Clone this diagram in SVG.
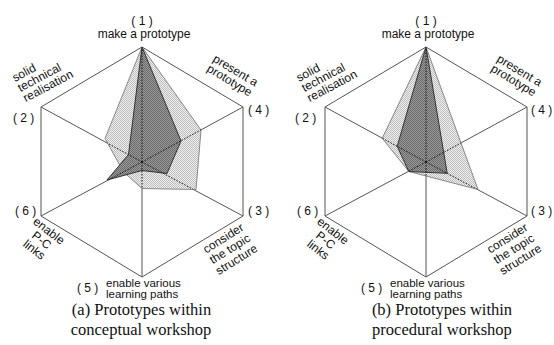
<svg xmlns="http://www.w3.org/2000/svg" width="554" height="345" viewBox="0 0 554 345">
<style>
.frame{fill:none;stroke:#555;stroke-width:1}
.spoke{fill:none;stroke:#555;stroke-width:1}
.dash{fill:none;stroke:#111;stroke-width:1;stroke-dasharray:1.5 1.5}
.light{fill:url(#lt);stroke:#888;stroke-width:1;stroke-linejoin:round}
.dark{fill:url(#dk);stroke:#333;stroke-width:1;stroke-linejoin:round}
.lbl{font-family:"Liberation Sans",Arial,sans-serif;font-size:12px;fill:#111}
.sm{font-size:11.5px}
.cap{font-family:"Liberation Serif","Times New Roman",serif;font-size:16.5px;fill:#111;text-anchor:middle}
.mid{text-anchor:middle}
</style>
<defs>
<pattern id="lt" width="2" height="2" patternUnits="userSpaceOnUse">
<rect width="2" height="2" fill="#f0f0f0"/>
<rect width="1" height="1" fill="#bcbcbc"/>
<rect x="1" y="1" width="1" height="1" fill="#bcbcbc"/>
</pattern>
<pattern id="dk" width="2" height="2" patternUnits="userSpaceOnUse">
<rect width="2" height="2" fill="#9a9a9a"/>
<rect width="1" height="1" fill="#6a6a6a"/>
<rect x="1" y="1" width="1" height="1" fill="#6a6a6a"/>
</pattern>
<path id="hex" d="M142,47 L41,107 L41,216 L142,277 L243,216 L243,107 Z"/>
<path id="spokes" d="M142,162 L142,47 M142,162 L41,107 M142,162 L243,107 M142,162 L41,216 M142,162 L243,216 M142,162 L142,277"/>
<clipPath id="clipA">
<polygon points="142,47 201,130 196,189.5 142,188.5 123.5,172 105,138.5"/>
<polygon points="142,47 181,141 167,173.5 142,170.5 107,180 128.5,154.5"/>
</clipPath>
<clipPath id="clipB">
<polygon points="142,47 194,189.5 124.8,171.5 98.2,138.3"/>
</clipPath>
</defs>

<g id="diagram-a">
<g id="axes-a">
<use href="#hex" class="frame"/>
<use href="#spokes" class="spoke"/>
</g>
<g id="profile-a">
<polygon id="a-light" class="light" points="142,47 201,130 196,189.5 142,188.5 123.5,172 105,138.5"/>
<polygon id="a-dark" class="dark" points="142,47 181,141 167,173.5 142,170.5 107,180 128.5,154.5"/>
<use href="#spokes" class="dash" clip-path="url(#clipA)"/>
</g>
<g id="a-n1"><text class="lbl mid" x="142" y="24.5">( 1 )</text><text class="lbl mid" x="144" y="37.5">make a prototype</text></g>
<g id="a-n2"><text class="lbl" x="13" y="122">( 2 )</text>
<g transform="translate(15,82) rotate(-28)"><text class="lbl" x="0" y="0">solid</text><text class="lbl" x="0" y="11.5">technical</text><text class="lbl" x="0" y="23">realisation</text></g></g>
<g id="a-n4"><text class="lbl" x="248" y="114">( 4 )</text>
<g transform="translate(212,61) rotate(31)"><text class="lbl" x="0" y="0">present a</text><text class="lbl" x="0" y="11.5">prototype</text></g></g>
<g id="a-n6"><text class="lbl" x="15" y="215">( 6 )</text>
<g transform="translate(46.5,234) rotate(38)"><text class="lbl mid" x="0" y="0">enable</text><text class="lbl mid" x="0" y="12">P-C</text><text class="lbl mid" x="0" y="24">links</text></g></g>
<g id="a-n3"><text class="lbl" x="248" y="215">( 3 )</text>
<g transform="translate(225.4,241.7) rotate(-32)"><text class="lbl mid" x="0" y="0">consider</text><text class="lbl mid" x="0" y="12.5">the topic</text><text class="lbl mid" x="0" y="25">structure</text></g></g>
<g id="a-n5"><text class="lbl" x="77" y="291.5">( 5 )</text><text class="lbl sm" x="106" y="286.5">enable various</text><text class="lbl sm" x="106" y="297.5">learning paths</text></g>
</g>

<g id="diagram-b" transform="translate(284,0)">
<g id="axes-b">
<use href="#hex" class="frame"/>
<use href="#spokes" class="spoke"/>
</g>
<g id="profile-b">
<polygon id="b-light" class="light" points="142,47 194,189.5 124.8,171.5 98.2,138.3"/>
<polygon id="b-dark" class="dark" points="142,47 163.2,173.3 124.8,171.5 113.2,146.3"/>
<use href="#spokes" class="dash" clip-path="url(#clipB)"/>
</g>
<g id="b-n1"><text class="lbl mid" x="142" y="24.5">( 1 )</text><text class="lbl mid" x="144" y="37.5">make a prototype</text></g>
<g id="b-n2"><text class="lbl" x="11" y="122">( 2 )</text>
<g transform="translate(15,82) rotate(-28)"><text class="lbl" x="0" y="0">solid</text><text class="lbl" x="0" y="11.5">technical</text><text class="lbl" x="0" y="23">realisation</text></g></g>
<g id="b-n4"><text class="lbl" x="247" y="114">( 4 )</text>
<g transform="translate(212,61) rotate(31)"><text class="lbl" x="0" y="0">present a</text><text class="lbl" x="0" y="11.5">prototype</text></g></g>
<g id="b-n6"><text class="lbl" x="13" y="215">( 6 )</text>
<g transform="translate(46.5,234) rotate(38)"><text class="lbl mid" x="0" y="0">enable</text><text class="lbl mid" x="0" y="12">P-C</text><text class="lbl mid" x="0" y="24">links</text></g></g>
<g id="b-n3"><text class="lbl" x="247" y="215">( 3 )</text>
<g transform="translate(225.4,241.7) rotate(-32)"><text class="lbl mid" x="0" y="0">consider</text><text class="lbl mid" x="0" y="12.5">the topic</text><text class="lbl mid" x="0" y="25">structure</text></g></g>
<g id="b-n5"><text class="lbl" x="77" y="291.5">( 5 )</text><text class="lbl sm" x="106" y="286.5">enable various</text><text class="lbl sm" x="106" y="297.5">learning paths</text></g>
</g>

<g id="captions">
<text class="cap" x="141.5" y="315">(a) Prototypes within</text>
<text class="cap" x="141" y="335">conceptual workshop</text>
<text class="cap" x="442" y="315">(b) Prototypes within</text>
<text class="cap" x="442" y="335">procedural workshop</text>
</g>
</svg>
